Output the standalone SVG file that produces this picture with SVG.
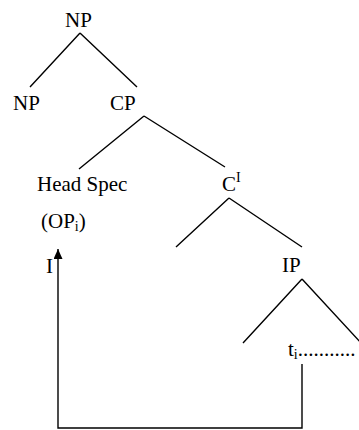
<svg xmlns="http://www.w3.org/2000/svg" width="359" height="430" viewBox="0 0 359 430">
<defs>
<style>
.t{font-family:"Liberation Serif","Times New Roman",serif;font-size:21px;fill:#000}
.s{font-family:"Liberation Serif","Times New Roman",serif;font-size:14px;fill:#000}
.l{stroke:#000;stroke-width:1.4;fill:none}
</style>
<marker id="ah" viewBox="0 0 10 9" refX="10" refY="4.5" markerWidth="10" markerHeight="9" markerUnits="userSpaceOnUse" orient="auto"><path d="M0,0 L10,4.5 L0,9 Z" fill="#000"/></marker>
</defs>
<rect width="359" height="430" fill="#fff"/>
<g id="np-top"><text class="t" x="65" y="27">NP</text></g>
<g id="np-left"><text class="t" x="13" y="110">NP</text></g>
<g id="cp"><text class="t" x="110" y="110">CP</text></g>
<g id="head-spec"><text class="t" x="37" y="191">Head Spec</text></g>
<g id="c-bar"><text class="t" x="222" y="191">C<tspan class="s" dy="-9">I</tspan></text></g>
<g id="op"><text class="t" x="41" y="228">(OP<tspan class="s" dy="3">i</tspan><tspan dy="-3">)</tspan></text></g>
<g id="i"><text class="t" x="46" y="273">I</text></g>
<g id="ip"><text class="t" x="282" y="272">IP</text></g>
<g id="trace"><text class="t" x="288" y="356">t<tspan class="s" dy="3">i</tspan><tspan dy="-3">...........</tspan></text></g>
<g id="connectors">
<path class="l" d="M80,33 L30,87 M80,33 L137,87"/>
<path class="l" d="M144,116 L79,169 M144,116 L225,167"/>
<path class="l" d="M229,198 L176,247 M229,198 L302,247"/>
<path class="l" d="M302,279 L243,343 M302,279 L361,343"/>
<path class="l" d="M302,364 L302,428 L58,428 L58,249" marker-end="url(#ah)"/>
</g>
</svg>
